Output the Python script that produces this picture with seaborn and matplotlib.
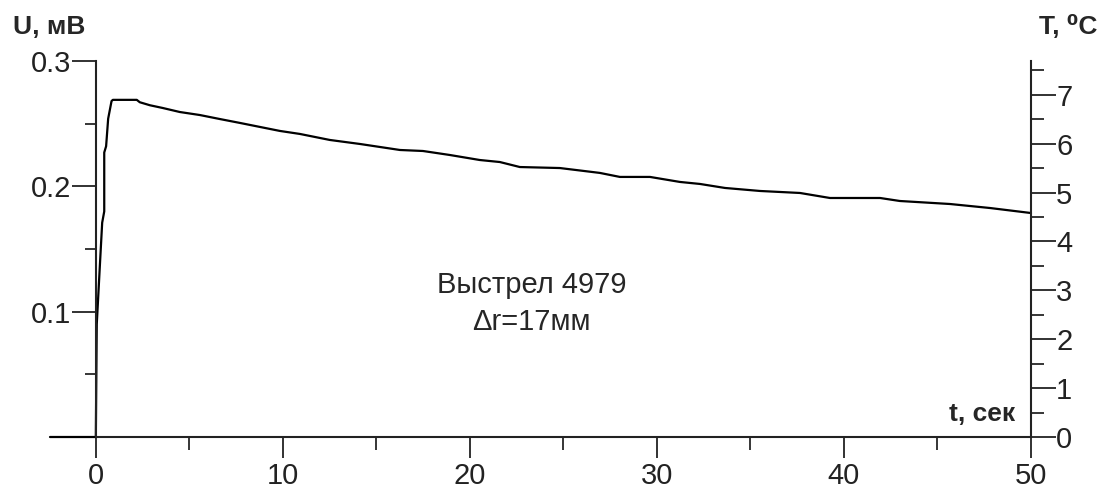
import numpy as np
import pandas as pd
import matplotlib
matplotlib.use('Agg')
import matplotlib.pyplot as plt
import seaborn as sns
from matplotlib.ticker import MultipleLocator

# values
t = [-2.45, 0.0, 0.0, 0.05, 0.21, 0.34, 0.45, 0.45, 0.55, 0.66, 0.84, 0.91,
     2.19, 2.35, 2.89, 3.58, 4.49, 5.56, 6.63, 7.70, 8.77, 9.84, 10.91,
     12.51, 14.12, 15.19, 16.26, 17.49, 18.93, 20.53, 21.60, 22.67, 24.81,
     26.95, 28.02, 29.63, 31.23, 32.30, 33.64, 35.51, 37.65, 39.25, 41.93,
     42.99, 45.67, 47.81, 50.0]
u = [0.0, 0.0, 0.0, 0.090, 0.135, 0.171, 0.180, 0.227, 0.232, 0.254, 0.268, 0.269,
     0.269, 0.2671, 0.2647, 0.2625, 0.2593, 0.2569, 0.2537, 0.2506, 0.2474, 0.2442, 0.2418,
     0.2370, 0.2338, 0.2314, 0.2290, 0.2282, 0.2250, 0.2210, 0.2194, 0.2154, 0.2146,
     0.2107, 0.2075, 0.2075, 0.2035, 0.2019, 0.1987, 0.1963, 0.1947, 0.1907, 0.1907,
     0.1883, 0.1859, 0.1827, 0.1787]

u_max = 0.3
t_max = 7.69
xticks = [0, 10, 20, 30, 40, 50]

df = pd.DataFrame({'t': t, 'U': u})

sns.set_style('ticks')
plt.rcParams['font.family'] = ['Liberation Sans', 'DejaVu Sans']

fig = plt.figure(figsize=(11.01, 4.88), dpi=100)
ax = fig.add_axes([50/1101, 1-437/488, 981/1101, 376/488])

sns.lineplot(data=df, x='t', y='U', ax=ax, color='black', lw=1.6,
             estimator=None, sort=False)
for l in ax.lines:
    l.set_clip_on(False)

ax.set_xlim(-2.45, 50)
ax.set_ylim(0, u_max)
ax.set_xlabel('')
ax.set_ylabel('')

for s in ['top', 'right']:
    ax.spines[s].set_visible(False)
ax.spines['left'].set_position(('data', 0))
ax.spines['bottom'].set_bounds(0, 50)
for s in ['left', 'bottom']:
    ax.spines[s].set_linewidth(1.5)
    ax.spines[s].set_color('#222222')

ax.set_xticks(xticks)
ax.xaxis.set_minor_locator(MultipleLocator(5))
ax.set_yticks([0.1, 0.2, 0.3])
ax.set_yticklabels(['0.1', '0.2', '0.3'])
ax.yaxis.set_minor_locator(MultipleLocator(0.05))
ax.tick_params(axis='x', which='major', direction='out', length=15, width=1.3,
               pad=3, labelsize=21, colors='#222222')
ax.tick_params(axis='x', which='minor', direction='out', length=9, width=1.3)
ax.tick_params(axis='y', which='major', direction='out', length=17, width=1.3,
               pad=1, labelsize=21, colors='#222222')
ax.tick_params(axis='y', which='minor', direction='out', length=8, width=1.3)

ax2 = ax.twinx()
ax2.set_ylim(0, t_max)
for s in ['top', 'left', 'bottom']:
    ax2.spines[s].set_visible(False)
ax2.spines['right'].set_linewidth(1.5)
ax2.spines['right'].set_color('#222222')
ax2.set_yticks(range(8))
ax2.yaxis.set_minor_locator(MultipleLocator(0.5))
ax2.tick_params(axis='y', which='major', direction='out', length=18, width=1.3,
                pad=0, labelsize=21, colors='#222222')
ax2.tick_params(axis='y', which='minor', direction='out', length=9, width=1.3)

fig.text(13/1101, 1-27/488, 'U, мВ', fontsize=19, fontweight='bold', ha='left', va='center')
fig.text(1097/1101, 1-27/488, 'T, \u2070C', fontsize=19, fontweight='bold', ha='right', va='center')
fig.text(1015/1101, 1-414/488, 't, сек', fontsize=19, fontweight='bold', ha='right', va='center')

ax.text(23.3, 0.121, 'Выстрел 4979', fontsize=21, ha='center', va='center')
ax.text(23.3, 0.0915, '\u0394r=17мм', fontsize=21, ha='center', va='center')

fig.savefig('out.png', dpi=100)
